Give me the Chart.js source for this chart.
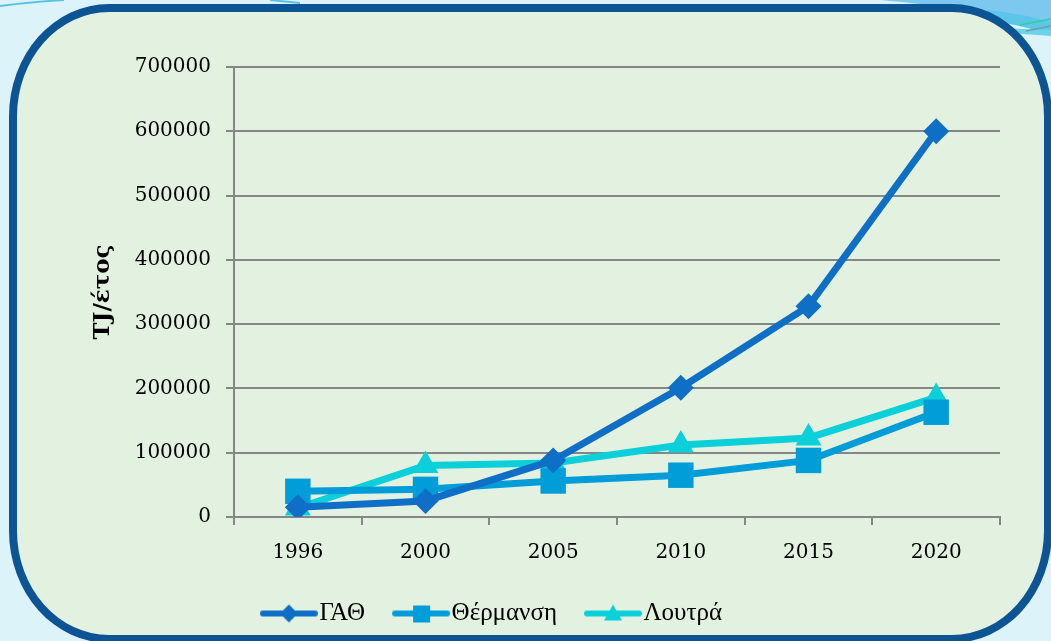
<!DOCTYPE html>
<html lang="el">
<head>
<meta charset="utf-8">
<title>ΤJ/έτος</title>
<script src="https://cdn.jsdelivr.net/npm/chart.js@4"></script>
<style>
  html, body { margin: 0; padding: 0; }
  body {
    width: 1051px; height: 641px; overflow: hidden; position: relative;
    background: #dcf4f9;
  }
  #deco { position: absolute; left: 0; top: 0; }
  #frame {
    position: absolute; left: 9px; top: 4px; width: 1027px; height: 623px;
    border: 8px solid #0c5494; border-radius: 100px / 112px;
    background: #e3f2e0;
  }
  #wrap { position: absolute; left: 0; top: 0; width: 1051px; height: 641px; }
</style>
</head>
<body>
<svg id="deco" width="1051" height="641">
  <path d="M0 6 Q 30 2 64 0" stroke="#5bbfe6" stroke-width="2" fill="none"/>
  <path d="M270 0 Q 290 2 300 3" stroke="#5bbfe6" stroke-width="2" fill="none"/>
  <path d="M880 0 L 1051 0 L 1051 36 Q 980 8 880 0 Z" fill="#7cc8ef"/>
  <path d="M940 6 Q 1010 10 1051 22 L 1051 34 Q 1000 20 940 12 Z" fill="#5cc6e8"/>
  <path d="M1000 28 L 1051 30 L 1051 36 L 1008 33 Z" fill="#6dd4e8"/>
  <path d="M1020 25 L 1051 19" stroke="#2fcf9e" stroke-width="1.5" fill="none"/>
  <path d="M1026 31 L 1051 26" stroke="#6f9fa8" stroke-width="1.5" fill="none"/>
</svg>
<div id="frame"></div>
<div id="wrap"><canvas id="chart" width="1051" height="641"></canvas></div>
<script>
const years = ['1996', '2000', '2005', '2010', '2015', '2020'];
const gath = [15000, 25000, 88000, 201000, 328000, 600000];
const thermansi = [40000, 43000, 56000, 65000, 88000, 163000];
const loutra = [14000, 80000, 84000, 112000, 123000, 186000];
const yTicks = [0, 100000, 200000, 300000, 400000, 500000, 600000, 700000];

const seriesNames = ['ΓΑΘ', 'Θέρμανση', 'Λουτρά'];
const colors = ['#0f6fc6', '#009dd9', '#0bd0d9'];
const grid = '#868686';

// legend swatch: a short thick line with the series marker in the middle
function swatch(color, style) {
  const c = document.createElement('canvas');
  c.width = 90; c.height = 22;
  const g = c.getContext('2d');
  g.strokeStyle = color; g.fillStyle = color;
  g.lineWidth = 6; g.lineCap = 'round';
  g.beginPath(); g.moveTo(33, 11); g.lineTo(85, 11); g.stroke();
  const cx = 59, cy = 11;
  g.beginPath();
  if (style === 'rectRot') {
    g.moveTo(cx, cy - 9); g.lineTo(cx + 9, cy); g.lineTo(cx, cy + 9); g.lineTo(cx - 9, cy);
  } else if (style === 'rect') {
    g.rect(cx - 8, cy - 8, 17, 17);
  } else {
    g.moveTo(cx, cy - 9); g.lineTo(cx + 9, cy + 7); g.lineTo(cx - 9, cy + 7);
  }
  g.closePath(); g.fill();
  return c;
}

const markers = ['rectRot', 'rect', 'triangle'];
const radii = [13, 18, 15];
const values = [gath, thermansi, loutra];

const datasets = values.map((v, i) => ({
  label: seriesNames[i],
  data: v,
  borderColor: colors[i],
  backgroundColor: colors[i],
  borderWidth: 7,
  pointStyle: markers[i],
  pointRadius: radii[i],
  pointBorderWidth: 0,
  tension: 0
}));

const legendIcons = markers.map((m, i) => swatch(colors[i], m));

// the legend sits a little left of the plot centre
const legendShift = {
  id: 'legendShift',
  beforeDraw(chart) {
    const lg = chart.legend;
    if (lg) { lg.left -= 60; lg.right -= 60; }
  }
};

new Chart(document.getElementById('chart'), {
  type: 'line',
  data: { labels: years, datasets: datasets },
  plugins: [legendShift],
  options: {
    responsive: false,
    animation: false,
    events: [],
    layout: { padding: { left: 85, right: 51, top: 67, bottom: 5 } },
    plugins: {
      tooltip: { enabled: false },
      legend: {
        position: 'bottom',
        labels: {
          usePointStyle: true,
          pointStyleWidth: 64,
          padding: 10,
          color: '#000',
          font: { family: '"Liberation Serif", "Times New Roman", serif', size: 25 },
          generateLabels: chart => chart.data.datasets.map((ds, i) => ({
            text: ds.label,
            pointStyle: legendIcons[i],
            fillStyle: ds.borderColor,
            strokeStyle: ds.borderColor,
            lineWidth: 0,
            hidden: false,
            datasetIndex: i
          }))
        }
      }
    },
    scales: {
      x: {
        offset: true,
        afterFit: s => { s.height = 74; },
        grid: { offset: true, drawOnChartArea: false, color: grid, lineWidth: 2, tickLength: 8 },
        border: { color: grid, width: 2 },
        ticks: {
          color: '#000', padding: 16,
          font: { family: '"DejaVu Serif", serif', size: 20 }
        }
      },
      y: {
        min: 0, max: 700000,
        afterFit: s => { s.width = 149; },
        afterBuildTicks: s => { s.ticks = yTicks.map(v => ({ value: v })); },
        grid: { color: grid, lineWidth: 2, tickLength: 8 },
        border: { color: grid, width: 2 },
        title: {
          display: true, text: 'ΤJ/έτος', color: '#000',
          font: { family: '"DejaVu Serif", serif', size: 23, weight: 'bold' }
        },
        ticks: {
          color: '#000', padding: 15,
          font: { family: '"DejaVu Serif", serif', size: 20 },
          callback: v => String(v)
        }
      }
    }
  }
});
</script>
</body>
</html>
